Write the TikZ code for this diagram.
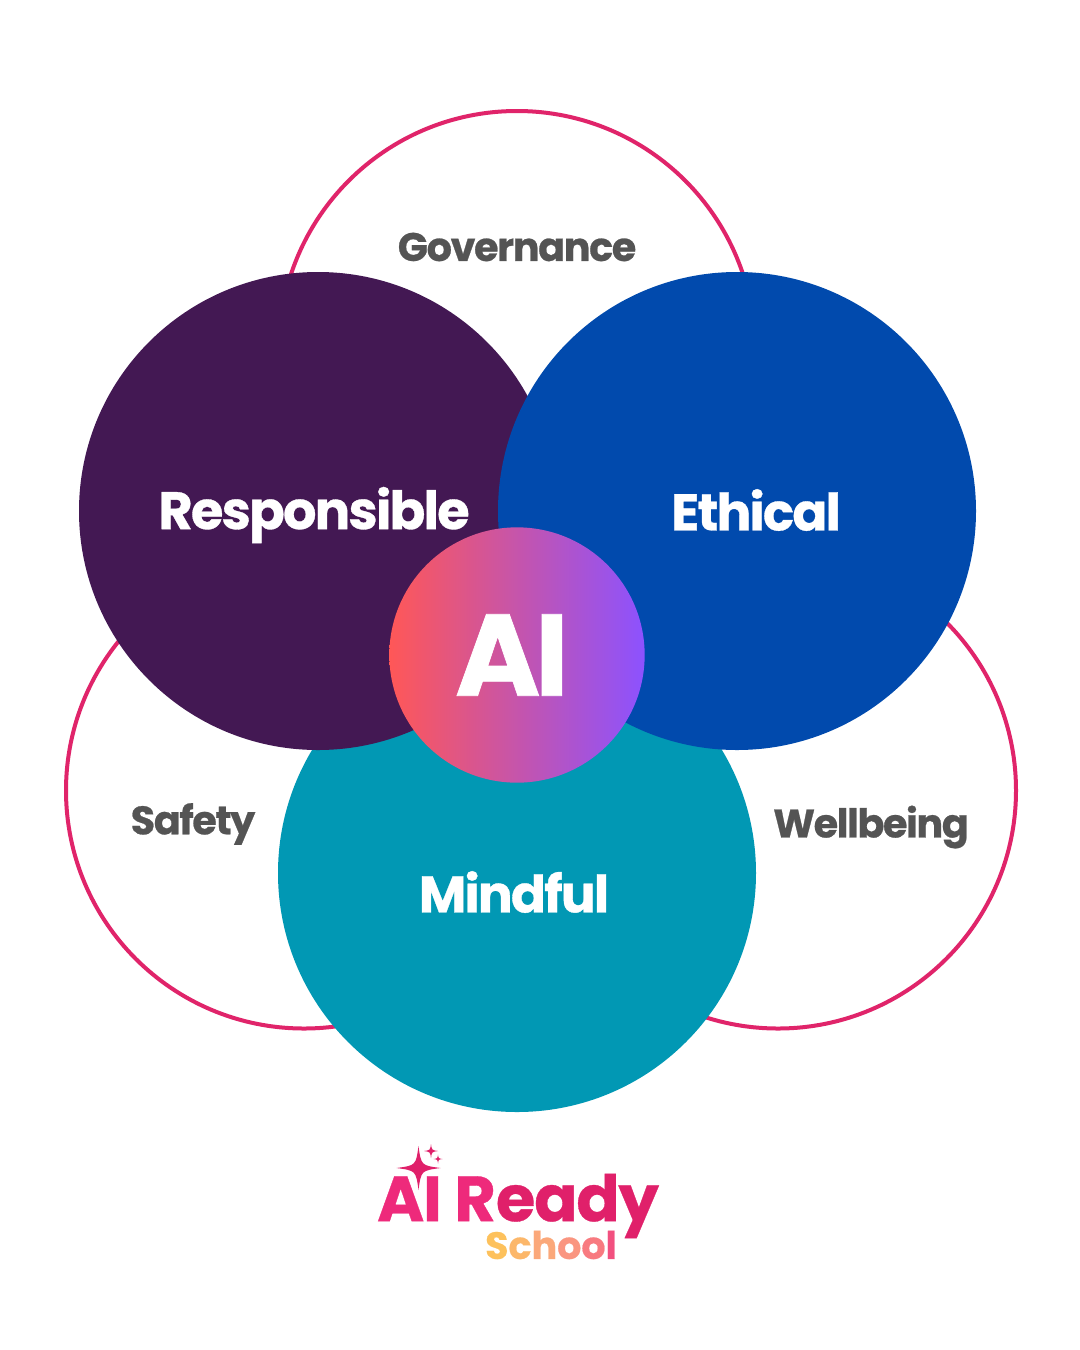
\documentclass[tikz,border=0pt]{standalone}
\usepackage{fontspec}
\setmainfont{Poppins}
\newfontfamily\pop{Poppins}[LetterSpace=-3.5,FakeBold=0.6]
\newfontfamily\popai{Poppins}[LetterSpace=-5,FakeBold=0.6]
\newfontfamily\poplogo{Poppins}[LetterSpace=-2,FakeBold=0.5]
\definecolor{ringpink}{HTML}{E0246A}
\definecolor{plum}{HTML}{431853}
\definecolor{royal}{HTML}{014AAD}
\definecolor{teal}{HTML}{0198B4}
\definecolor{graytxt}{HTML}{545454}
\definecolor{gradl}{HTML}{FF5757}
\definecolor{gradr}{HTML}{8C52FF}
\definecolor{lgA}{HTML}{EE2A7B}
\definecolor{lgB}{HTML}{E0206A}
\tikzset{
  px/.style={x=0.75pt,y=-0.75pt},
  ring/.style={circle,draw=ringpink,line width=3pt,fill=white,minimum size=357pt,inner sep=0pt},
  petal/.style={circle,minimum size=358.5pt,inner sep=0pt},
  bigtxt/.style={text=white,font=\pop\bfseries\fontsize{39.5}{39.5}\selectfont,inner sep=0pt,anchor=center},
  midtxt/.style={text=white,font=\pop\bfseries\fontsize{38.7}{38.7}\selectfont,inner sep=0pt,anchor=center},
  outtxt/.style={text=graytxt,font=\pop\bfseries\fontsize{29.8}{29.8}\selectfont,inner sep=0pt,anchor=center},
  logotxt/.style={inner sep=0pt,anchor=center},
  sparkle/.style={fill=lgB,draw=none}
}
\newcommand{\sparkat}[3]{% x y r
  \fill[sparkle] (#1,#2-#3) .. controls (#1+#3*0.12,#2-#3*0.12) .. (#1+#3,#2)
    .. controls (#1+#3*0.12,#2+#3*0.12) .. (#1,#2+#3)
    .. controls (#1-#3*0.12,#2+#3*0.12) .. (#1-#3,#2)
    .. controls (#1-#3*0.12,#2-#3*0.12) .. (#1,#2-#3) -- cycle;}
\begin{document}
\begin{tikzpicture}[px]
\useasboundingbox[fill=white] (0,0) rectangle (1080,1350);
\node[ring] (gov) at (517,349) {};
\node[ring] (saf) at (304,790.5) {};
\node[ring] (wel) at (778,790.5) {};
\node[petal,fill=teal] (mind) at (517,873) {};
\node[petal,fill=plum] (resp) at (318,511) {};
\node[petal,fill=royal] (eth) at (737,511) {};
\node[circle,minimum size=191.5pt,inner sep=0pt,left color=gradl,right color=gradr,shading angle=90] (ai) at (517,655) {};
\node[bigtxt] (tresp) at (314,515) {Responsible};
\node[midtxt] (teth) at (756,510) {Ethical};
\node[midtxt] (tmind) at (514,892) {Mindful};
\node[text=white,font=\popai\bfseries\fontsize{87}{87}\selectfont,inner sep=0pt] (tai) at (512,655) {AI};
\node[outtxt] (tgov) at (517,247) {Governance};
\node[outtxt] (tsaf) at (193,824) {Safety};
\node[outtxt] (twel) at (871,827) {Wellbeing};
\node[logotxt,font=\poplogo\bfseries\fontsize{48}{48}\selectfont] (lg1) at (518,1206) {\textcolor{lgA}{AI R}\textcolor{lgB}{eady}};
\node[logotxt,font=\poplogo\bfseries\fontsize{28.5}{28.5}\selectfont] (lg2) at (551,1245) {\textcolor[HTML]{FDC15C}{S}\textcolor[HTML]{FCB76A}{c}\textcolor[HTML]{FBA87A}{h}\textcolor[HTML]{FA9580}{o}\textcolor[HTML]{F87A80}{o}\textcolor[HTML]{F2507F}{l}};
\sparkat{418.5}{1168}{22}
\sparkat{431}{1151}{7}
\sparkat{438}{1159}{4.5}
\end{tikzpicture}
\end{document}
